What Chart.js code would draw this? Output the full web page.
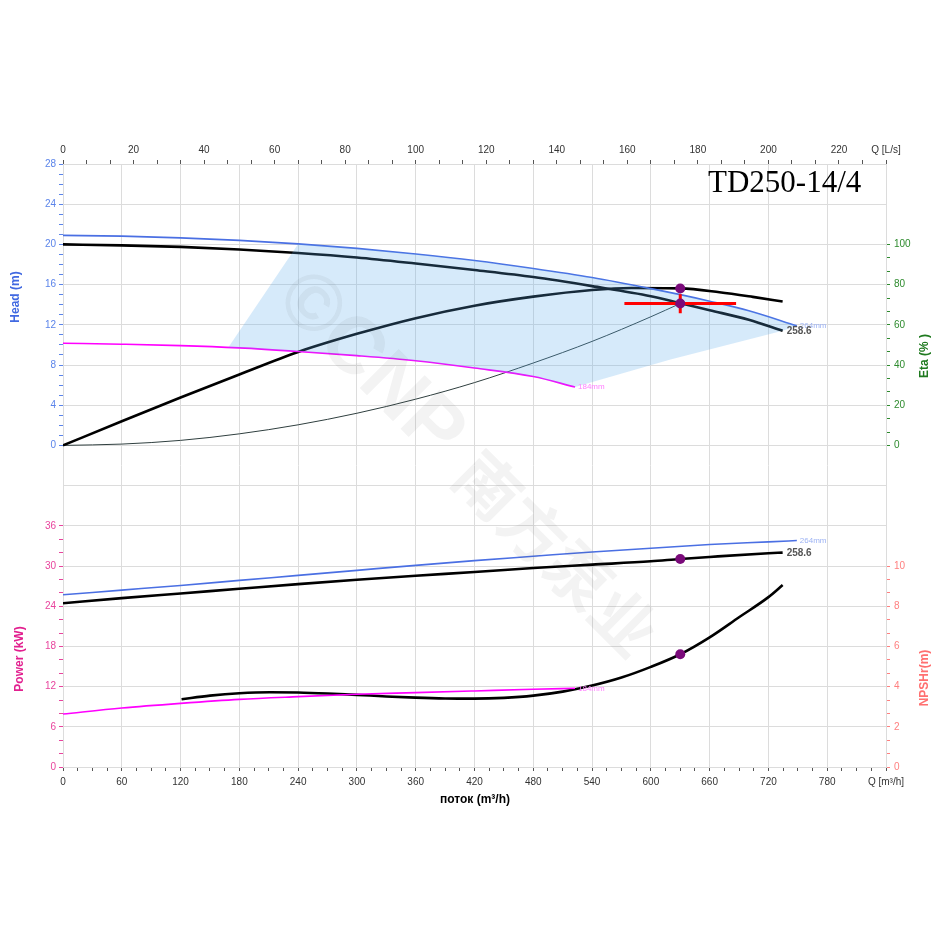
<!DOCTYPE html>
<html>
<head>
<meta charset="utf-8">
<script src="https://cdn.jsdelivr.net/npm/chart.js@4.4.0/dist/chart.umd.min.js"></script>
<style>
html,body{margin:0;padding:0;background:#fff;}
#wrap{width:950px;height:950px;position:relative;}
canvas{display:block;}
</style>
</head>
<body>
<div id="wrap"><canvas id="c" width="950" height="950" style="width:950px;height:950px"></canvas></div>
<script>
// ---------------- DATA ----------------
// flow in m3/h
const flowHead264  = [0,60,120,180,240,300,360,420,480,540,600,630,660,700,749];
const head264      = [20.9,20.82,20.65,20.4,20.05,19.6,19.05,18.4,17.6,16.7,15.6,15.0,14.35,13.4,11.9];
const flowHead2586 = [0,60,120,180,240,300,360,420,480,540,600,630,660,700,734.5];
const head2586     = [20.0,19.9,19.75,19.5,19.15,18.7,18.1,17.45,16.75,15.85,14.85,14.15,13.45,12.5,11.4];
const flowHead184  = [0,60,120,180,240,300,360,420,480,522.6];
const head184      = [10.17,10.07,9.93,9.7,9.35,8.93,8.42,7.7,6.85,5.81];
const flowEta      = [0,60,120,180,240,300,360,420,480,540,580,630,670,704,734.5];
const eta2586      = [0,12,23.8,35.3,46.5,55.5,63.3,69.5,74,77.3,78.3,78.1,76.2,73.9,71.6];
const flowSystem   = [0,60,120,180,240,300,360,420,480,540,600,630];
const headSystem   = [0,0.13,0.5,1.15,2.05,3.2,4.6,6.25,8.2,10.35,12.8,14.12];
const flowPow264   = [0,60,120,180,240,300,360,420,480,540,600,660,720,749];
const power264     = [25.7,26.4,27.1,27.85,28.6,29.35,30.1,30.8,31.45,32.1,32.65,33.2,33.6,33.8];
const flowPow2586  = [0,60,120,180,240,300,360,420,480,540,600,630,660,720,734.5];
const power2586    = [24.45,25.2,25.9,26.6,27.3,27.95,28.55,29.1,29.7,30.2,30.7,31.05,31.35,31.9,32.0];
const flowPow184   = [0,60,120,180,240,300,360,420,480,522.6];
const power184     = [7.9,8.8,9.5,10.1,10.5,10.85,11.1,11.35,11.6,11.75];
const flowNpsh     = [121,150,180,211,240,270,300,330,360,390,420,450,480,510,540,570,600,630,660,690,720,734.5];
const npsh2586     = [3.37,3.55,3.67,3.72,3.71,3.66,3.59,3.51,3.45,3.41,3.40,3.44,3.55,3.75,4.05,4.45,4.98,5.61,6.45,7.45,8.45,9.05];
// operating range (shaded area) boundary
const rangeFlow = [168.7,240,300,360,420,480,540,600,630,660,700,749,734.5,620,522.6,480,420,360,300,240,180,168.7];
const rangeHead = [9.75,20.05,19.6,19.05,18.4,17.6,16.7,15.6,15.0,14.35,13.4,11.9,11.4,8.55,5.81,6.85,7.7,8.42,8.93,9.35,9.7,9.75];
// duty point
const dutyFlow = 630, dutyHead = 14.12, dutyEta = 78.1, dutyPower = 31.05, dutyNpsh = 5.61;
const crossFlowH = [573,687], crossHeadH = [14.12,14.12];
const crossFlowV = [630,630], crossHeadV = [13.15,15.05];
// tick labels
const flowTickLabels  = [0,60,120,180,240,300,360,420,480,540,600,660,720,780];
const lsTickLabels    = [0,20,40,60,80,100,120,140,160,180,200,220];
const headTickLabels  = [0,4,8,12,16,20,24,28];
const powerTickLabels = [0,6,12,18,24,30,36];
const etaTickLabels   = [0,20,40,60,80,100];
const npshTickLabels  = [0,2,4,6,8,10];
const curveNames = ['264mm','258.6','184mm'];

// ---------------- SETTINGS ----------------
const Q_MAX = 840, LS_MAX = 840/3.6;
const H_MIN = -32, H_MAX = 28, P_MIN = 0, P_MAX = 90;
const E_MIN = -160, E_MAX = 140, N_MIN = 0, N_MAX = 30;
const GRID = '#dcdcdc';
const HEAD_C = '#5b84ea', POW_C = '#e8449d', ETA_C = '#2e8b2e', NPSH_C = '#ff8080', AXIS_C = '#333333';
const FONT = "'Liberation Sans', Arial, sans-serif";
Chart.defaults.font.family = FONT;

const xy = (xs, ys) => xs.map((q, i) => ({x: q, y: ys[i]}));

function buildTicks(items){
  items.sort((a,b)=>a.v-b.v);
  const out = [];
  for (const t of items){
    const last = out[out.length-1];
    if (last && Math.abs(last.value - t.v) < 1e-6){
      if (t.lab) last.lab = t.lab;
      if (t.col) last.col = t.col;
      if (t.grid) last.grid = true;
    } else out.push({value:t.v, lab:t.lab||'', col:t.col||null, grid:!!t.grid});
  }
  return out;
}
function leftTicks(){
  const it = [];
  for (let h=0; h<=28; h++) it.push({v:h, col:HEAD_C, lab: headTickLabels.includes(h)? String(h):''});
  for (let p=0; p<=36; p+=2) it.push({v:H_MIN + p*(H_MAX-H_MIN)/(P_MAX-P_MIN), col:POW_C, lab: powerTickLabels.includes(p)? String(p):''});
  for (let g=H_MIN; g<=H_MAX; g+=4) it.push({v:g, grid:true});
  return buildTicks(it);
}
function rightTicks(){
  const it = [];
  for (let i=0; i<=15; i++){ const e = i*20/3; it.push({v:e, col:ETA_C, lab: (i%3===0 && etaTickLabels.includes(Math.round(e)))? String(Math.round(e)):''}); }
  for (let j=0; j<=15; j++){ const n = j*2/3; it.push({v:E_MIN + n*(E_MAX-E_MIN)/(N_MAX-N_MIN), col:NPSH_C, lab: (j%3===0 && npshTickLabels.includes(Math.round(n)))? String(Math.round(n)):''}); }
  return buildTicks(it);
}
function bottomTicks(){
  const it = [];
  for (let q=0; q<=Q_MAX; q+=15){
    let lab = flowTickLabels.includes(q) ? String(q) : '';
    if (q === Q_MAX) lab = 'Q [m³/h]';
    it.push({v:q, col:'#555', lab, grid: q%60===0});
  }
  return buildTicks(it);
}
function topTicks(){
  const it = [];
  for (let i=0; i<=35; i++){
    const v = i*20/3;
    let lab = (i%3===0 && lsTickLabels.includes(Math.round(v))) ? String(Math.round(v)) : '';
    if (i === 35) { lab = 'Q [L/s]'; }
    it.push({v: i===35 ? LS_MAX : v, col:'#555', lab});
  }
  return buildTicks(it);
}
const tickCol = c => (c.tick && c.tick.col) ? c.tick.col : 'rgba(0,0,0,0)';
const lblCol = c => (c.tick && c.tick.col) ? c.tick.col : '#000';
const gridCol = c => (c.tick && c.tick.grid) ? GRID : 'rgba(0,0,0,0)';
const lbl = (v, i, ticks) => ticks[i] && ticks[i].lab !== undefined ? ticks[i].lab : '';

const lineDs = (data, axis, color, width, order) => ({
  data, yAxisID: axis, xAxisID: 'x', showLine: true, borderColor: color, borderWidth: width,
  pointRadius: 0, pointHoverRadius: 0, fill: false, cubicInterpolationMode: 'monotone', order
});
const dotDs = (q, y, axis) => ({
  data: [{x:q, y}], yAxisID: axis, xAxisID: 'x', showLine: false, pointRadius: 5,
  pointBackgroundColor: '#7a0a7a', pointBorderWidth: 0, order: 0
});

const datasets = [
  dotDs(dutyFlow, dutyHead, 'yH'),
  dotDs(dutyFlow, dutyEta, 'yE'),
  dotDs(dutyFlow, dutyPower, 'yP'),
  dotDs(dutyFlow, dutyNpsh, 'yN'),
  Object.assign(lineDs(xy(crossFlowH, crossHeadH), 'yH', '#ff0000', 3, 1), {cubicInterpolationMode:'default', tension:0}),
  Object.assign(lineDs(xy(crossFlowV, crossHeadV), 'yH', '#ff0000', 3, 1), {cubicInterpolationMode:'default', tension:0}),
  {
    data: xy(rangeFlow, rangeHead), yAxisID: 'yH', xAxisID: 'x', showLine: true,
    borderWidth: 0, borderColor: 'rgba(0,0,0,0)', pointRadius: 0, tension: 0,
    fill: 'shape', backgroundColor: 'rgba(90,170,235,0.25)', order: 2
  },
  lineDs(xy(flowHead264, head264), 'yH', '#4a6fe3', 1.6, 3),
  lineDs(xy(flowHead2586, head2586), 'yH', '#000000', 2.6, 3),
  lineDs(xy(flowHead184, head184), 'yH', '#ff00ff', 1.6, 3),
  lineDs(xy(flowEta, eta2586), 'yE', '#000000', 2.6, 3),
  lineDs(xy(flowSystem, headSystem), 'yH', '#2f3f3f', 1, 3),
  lineDs(xy(flowPow264, power264), 'yP', '#4a6fe3', 1.6, 3),
  lineDs(xy(flowPow2586, power2586), 'yP', '#000000', 2.6, 3),
  lineDs(xy(flowPow184, power184), 'yP', '#ff00ff', 1.6, 3),
  lineDs(xy(flowNpsh, npsh2586), 'yN', '#000000', 2.6, 3)
];

function drawRot(ctx, text, x, y, font, color){
  ctx.save(); ctx.translate(x, y); ctx.rotate(-Math.PI/2);
  ctx.font = font; ctx.fillStyle = color; ctx.textAlign = 'center'; ctx.textBaseline = 'middle';
  ctx.fillText(text, 0, 0); ctx.restore();
}
function drawTxt(ctx, text, x, y, font, color, align){
  ctx.save(); ctx.font = font; ctx.fillStyle = color; ctx.textAlign = align || 'left'; ctx.textBaseline = 'middle';
  ctx.fillText(text, x, y); ctx.restore();
}

const textPlugin = {
  id: 'texts',
  afterDatasetsDraw(chart){
    const ctx = chart.ctx;
    // watermark
    ctx.save();
    ctx.translate(289, 286); ctx.rotate(Math.PI/4);
    ctx.fillStyle = 'rgba(70,70,70,0.065)'; ctx.textBaseline = 'middle'; ctx.textAlign = 'left';
    ctx.font = "bold 80px 'Liberation Sans', Arial, sans-serif";
    ctx.fillText('©CNP', 0, 0);
    const w = ctx.measureText('©CNP ').width;
    ctx.font = "bold 64px 'Noto Sans CJK SC', sans-serif";
    ctx.fillText('南方泵业', w, 0);
    ctx.restore();
  },
  afterDraw(chart){
    const ctx = chart.ctx; const s = chart.scales;
    const X = v => s.x.getPixelForValue(v);
    drawRot(ctx, 'Head (m)', 16, 297, `bold 12px ${FONT}`, '#4169e1');
    drawRot(ctx, 'Power (kW)', 20, 659, `bold 12px ${FONT}`, '#e2208f');
    drawRot(ctx, 'Eta (% )', 925, 356, `bold 12px ${FONT}`, '#1f7a1f');
    drawRot(ctx, 'NPSHr(m)', 925, 678, `bold 12px ${FONT}`, '#ff7070');
    drawTxt(ctx, 'поток (m³/h)', 475, 800, `bold 12px ${FONT}`, '#000', 'center');
    ctx.save(); ctx.font = "31px 'Liberation Serif', 'Times New Roman', serif"; ctx.fillStyle = '#000';
    ctx.textBaseline = 'alphabetic'; ctx.fillText('TD250-14/4', 708, 192); ctx.restore();
    // curve end labels
    const L = a => a[a.length-1];
    drawTxt(ctx, curveNames[0], X(L(flowHead264))+3, s.yH.getPixelForValue(L(head264)), `8px ${FONT}`, '#9db3f4');
    drawTxt(ctx, curveNames[1], X(L(flowHead2586))+4, s.yH.getPixelForValue(L(head2586)), `bold 10px ${FONT}`, '#555');
    drawTxt(ctx, curveNames[2], X(L(flowHead184))+3, s.yH.getPixelForValue(L(head184)), `8px ${FONT}`, '#ff80ff');
    drawTxt(ctx, curveNames[0], X(L(flowPow264))+3, s.yP.getPixelForValue(L(power264)), `8px ${FONT}`, '#9db3f4');
    drawTxt(ctx, curveNames[1], X(L(flowPow2586))+4, s.yP.getPixelForValue(L(power2586))+1, `bold 10px ${FONT}`, '#555');
    drawTxt(ctx, curveNames[2], X(L(flowPow184))+3, s.yP.getPixelForValue(L(power184))+1, `8px ${FONT}`, '#ff80ff');
  }
};

new Chart(document.getElementById('c'), {
  type: 'scatter',
  data: { datasets },
  options: {
    responsive: false, animation: false, devicePixelRatio: 1,
    layout: { padding: 0 },
    plugins: { legend: {display:false}, tooltip: {enabled:false} },
    events: [],
    scales: {
      x: {
        type: 'linear', position: 'bottom', min: 0, max: Q_MAX,
        afterBuildTicks: sc => { sc.ticks = bottomTicks(); },
        afterFit: sc => { sc.height = 183; },
        ticks: { autoSkip: false, maxRotation: 0, padding: 5, color: AXIS_C, font: {size: 10}, callback: lbl },
        grid: { color: gridCol, tickColor: tickCol, tickLength: 4, drawTicks: true },
        border: { display: true, color: GRID }
      },
      x2: {
        type: 'linear', position: 'top', min: 0, max: LS_MAX,
        afterBuildTicks: sc => { sc.ticks = topTicks(); },
        afterFit: sc => { sc.height = 164; },
        ticks: { autoSkip: false, maxRotation: 0, padding: 4, color: AXIS_C, font: {size: 10}, callback: lbl },
        grid: { drawOnChartArea: false, tickColor: tickCol, tickLength: 4 },
        border: { display: true, color: GRID }
      },
      yH: {
        type: 'linear', position: 'left', min: H_MIN, max: H_MAX,
        afterBuildTicks: sc => { sc.ticks = leftTicks(); },
        afterFit: sc => { sc.width = 63; },
        ticks: { autoSkip: false, padding: 3, color: lblCol, font: {size: 10}, callback: lbl },
        grid: { color: gridCol, tickColor: tickCol, tickLength: 4 },
        border: { display: true, color: GRID }
      },
      yP: { type: 'linear', position: 'left', min: P_MIN, max: P_MAX, display: false },
      yE: {
        type: 'linear', position: 'right', min: E_MIN, max: E_MAX,
        afterBuildTicks: sc => { sc.ticks = rightTicks(); },
        afterFit: sc => { sc.width = 64; },
        ticks: { autoSkip: false, padding: 4, color: lblCol, font: {size: 10}, callback: lbl },
        grid: { drawOnChartArea: false, tickColor: tickCol, tickLength: 4 },
        border: { display: true, color: GRID }
      },
      yN: { type: 'linear', position: 'right', min: N_MIN, max: N_MAX, display: false }
    }
  },
  plugins: [textPlugin]
});
</script>
</body>
</html>
